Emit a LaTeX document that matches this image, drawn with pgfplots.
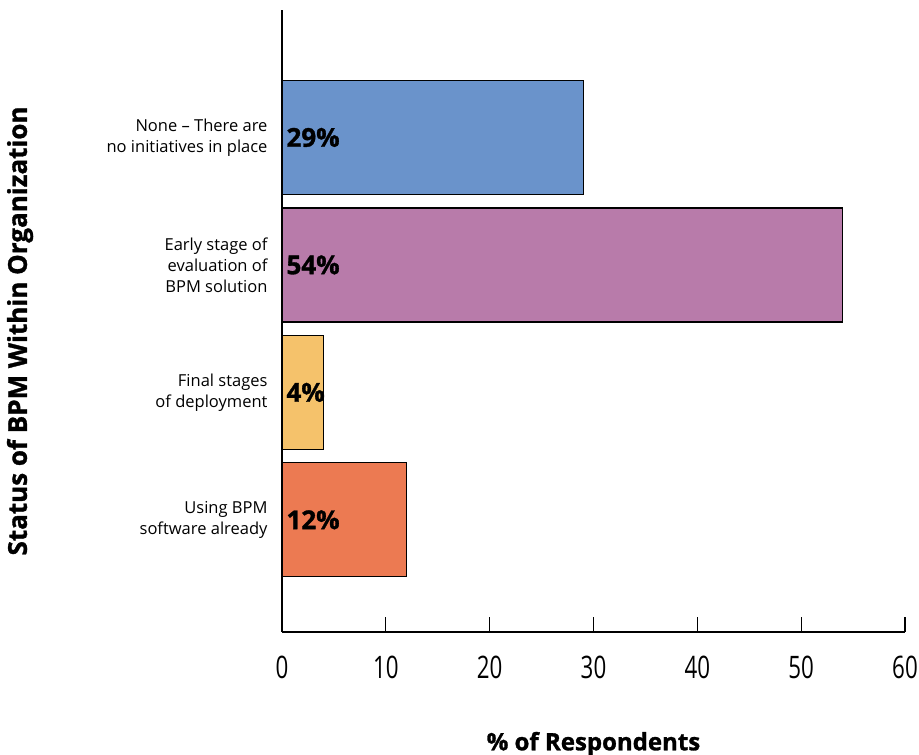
\documentclass[border=0pt]{standalone}
\usepackage{pgfplots}
\pgfplotsset{compat=1.18}
\usepackage{fontspec}
\setmainfont{Open Sans}
\newfontfamily\condfont[FakeStretch=0.72]{Open Sans}
\newfontfamily\heavy[BoldFeatures={FakeBold=1.2}]{Open Sans}
\definecolor{cblue}{RGB}{106,147,203}
\definecolor{cpurple}{RGB}{184,123,170}
\definecolor{cyellow}{RGB}{245,194,107}
\definecolor{corange}{RGB}{236,122,82}
\begin{document}
\begin{tikzpicture}
\useasboundingbox (-282pt,-123pt) rectangle (637pt,632pt);
\begin{axis}[
  at={(0,0)}, anchor=south west,
  scale only axis, width=623pt, height=622pt,
  xmin=0, xmax=60, ymin=0.12, ymax=5,
  axis lines*=left,
  axis line style={black, line width=1.6pt},
  xtick={0,10,20,30,40,50,60},
  tick align=inside,
  major tick length=15pt,
  x tick style={black, line width=1.2pt},
  ytick={1,2,3,4},
  yticklabels={{Using BPM\\software already},{Final stages\\of deployment},{Early stage of\\evaluation of\\BPM solution},{None – There are\\no initiatives in place}},
  y tick style={draw=none},
  yticklabel style={align=right, font=\fontsize{16.5}{21}\selectfont, xshift=4pt},
  xticklabel style={font=\condfont\fontsize{31}{31}\selectfont, yshift=-20pt},
  /pgf/number format/assume math mode=true,
  xlabel={\% of Respondents},
  xlabel style={font=\heavy\bfseries\fontsize{24}{24}\selectfont, at={(axis description cs:0.5,0)}, anchor=center, yshift=-112pt},
  ylabel={Status of BPM Within Organization},
  ylabel style={font=\heavy\bfseries\fontsize{26}{26}\selectfont, at={(axis description cs:-0.4205,0.484)}, anchor=center},
  xbar, bar width=114pt, bar shift=0pt,
  clip=false,
]
\addplot[fill=cblue, draw=black, line width=1.2pt] coordinates {(29,4)};
\addplot[fill=cpurple, draw=black, line width=1.2pt] coordinates {(54,3)};
\addplot[fill=cyellow, draw=black, line width=1.2pt] coordinates {(4,2)};
\addplot[fill=corange, draw=black, line width=1.2pt] coordinates {(12,1)};
\node[anchor=west, font=\heavy\bfseries\fontsize{26}{26}\selectfont, xshift=1pt] at (axis cs:0,4) {29\%};
\node[anchor=west, font=\heavy\bfseries\fontsize{26}{26}\selectfont, xshift=1pt] at (axis cs:0,3) {54\%};
\node[anchor=west, font=\heavy\bfseries\fontsize{26}{26}\selectfont, xshift=1pt] at (axis cs:0,2) {4\%};
\node[anchor=west, font=\heavy\bfseries\fontsize{26}{26}\selectfont, xshift=1pt] at (axis cs:0,1) {12\%};
\end{axis}
\end{tikzpicture}
\end{document}
